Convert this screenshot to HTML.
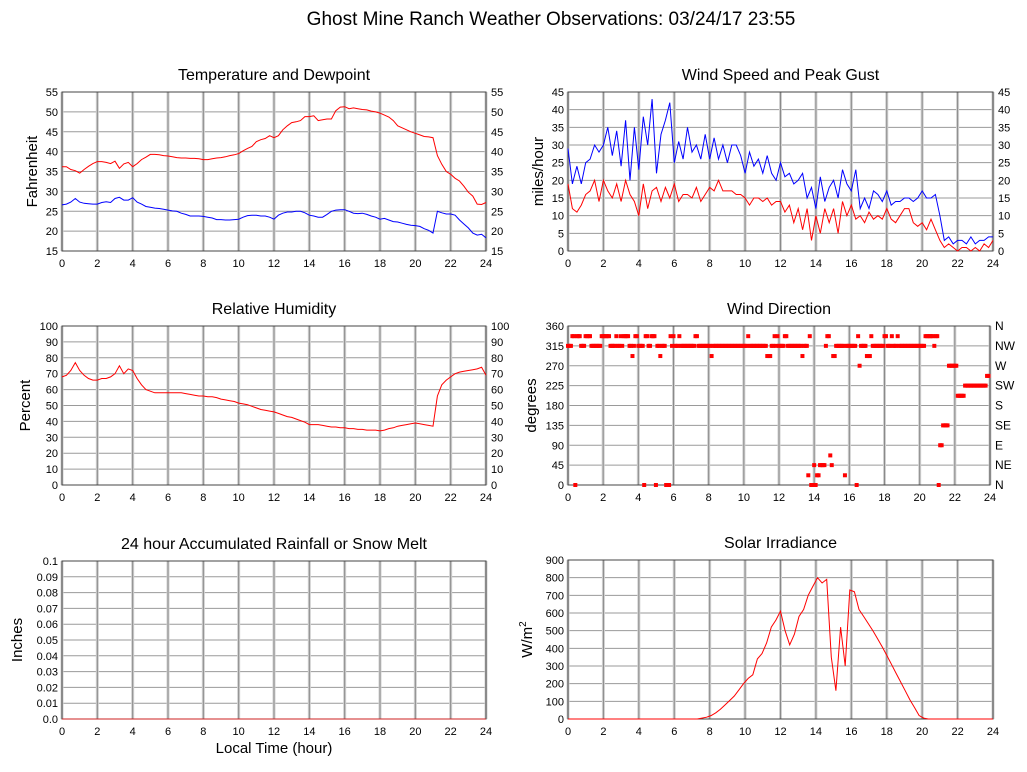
<!DOCTYPE html>
<html><head><meta charset="utf-8"><style>
html,body{margin:0;padding:0;background:#fff;}
svg{display:block;font-family:"Liberation Sans",sans-serif;}
</style></head><body>
<svg id="c" width="1027" height="772" viewBox="0 0 1027 772" xmlns="http://www.w3.org/2000/svg">
<text x="551" y="25" text-anchor="middle" font-size="19">Ghost Mine Ranch Weather Observations: 03/24/17 23:55</text>
<text x="274" y="753" text-anchor="middle" font-size="15">Local Time (hour)</text>
</svg>
<script>
// quarter-hour series (97 values, 0..24h)
const tempF = [36.2,36.2,35.5,35.2, 34.6,35.5,36.3,37, 37.5,37.5,37.3,37, 37.6,35.8,36.9,37.3, 36.2,37,38,38.6, 39.3,39.3,39.2,39, 38.9,38.7,38.5,38.4, 38.4,38.3,38.3,38.2, 38,38,38.2,38.4, 38.5,38.7,39,39.2, 39.5,40.2,40.8,41.3, 42.5,43,43.3,44, 43.5,44,45.5,46.5, 47.3,47.5,47.8,48.8, 48.8,49,47.8,48, 48.2,48.2,50.3,51.2, 51.3,50.8,51,50.8, 50.6,50.5,50.2,50, 49.7,49.2,48.7,47.8, 46.5,46,45.5,45, 44.6,44.2,43.8,43.7, 43.5,39,36.8,35, 34.3,33.3,32.6,31.3, 29.8,28.8,26.8,26.7, 27.2];
const dewF = [26.6,26.8,27.3,28.2, 27.3,27,26.9,26.8, 26.8,27.2,27.4,27.2, 28.2,28.5,27.8,27.8, 28.4,27.3,26.8,26.2, 26,25.8,25.7,25.5, 25.3,25.1,25,24.5, 24.2,23.8,23.8,23.8, 23.7,23.5,23.3,22.9, 22.9,22.8,22.8,22.9, 23,23.5,23.9,24, 24,23.8,23.8,23.5, 23,24,24.5,24.8, 24.8,25,25,24.6, 24,23.8,23.5,23.5, 24.2,25,25.3,25.4, 25.4,25,24.5,24.4, 24.5,24.2,23.8,23.5, 23,23.2,22.8,22.4, 22.3,22,21.7,21.5, 21.4,21.2,20.6,20.2, 19.5,25,24.6,24.3, 24.3,24,22.8,21.8, 20.8,19.5,19,19.2, 18.3];
const gust = [29,19,24,19, 25,26,30,28, 30,35,27,34, 24,37,20,35, 23,38,30,43, 22,33,37,42, 25,31,26,35, 28,30,26,33, 26,32,26,30, 25,30,30,27, 22,28,24,26, 22,27,22,20, 25,21,22,19, 20,22,15,18, 12,21,14,18, 20,15,23,19, 17,23,12,15, 12,17,16,14, 17,13,14,14, 15,15,14,15, 17,15,15,16, 10,3,4,2, 3,3,2,4, 2,3,3,4, 4];
const wind = [19,12,11,13, 16,17,20,14, 20,17,15,19, 14,20,16,14, 10,19,12,17, 18,14,18,15, 19,14,16,16, 15,18,14,16, 18,17,20,17, 17,17,16,16, 15,13,15,15, 14,15,13,14, 14,11,13,8, 12,6,12,3, 10,5,12,8, 12,5,14,10, 13,9,10,8, 11,9,10,9, 12,9,8,10, 12,12,8,7, 8,6,9,6, 3,1,2,1, 0,1,1,0, 1,0,2,1, 3];
const rh = [68,69,72,77, 72,69,67,66, 66,67,67,68, 70,75,70,73, 72,67,63,60, 59,58,58,58, 58,58,58,58, 57.5,57,56.5,56, 56,55.5,55.5,55, 54,53.5,53,52.5, 51.5,51,50.5,49.5, 48.5,47.5,47,46.5, 46,45,44,43, 42.5,41.5,40.5,39.5, 38,38,38,37.5, 37,36.5,36.5,36, 36,35.5,35.5,35, 35,34.5,34.5,34.5, 34,34.5,35.5,36, 37,37.5,38,38.5, 39,38.5,38,37.5, 37,56,63,66, 68,70,71,71.5, 72,72.5,73,74, 69];
const rain = [0,0,0,0,0,0,0,0,0,0,0,0,0,0,0,0,0,0,0,0,0,0,0,0,0];
const solar = [0,0,0,0, 0,0,0,0, 0,0,0,0, 0,0,0,0, 0,0,0,0, 0,0,0,0, 0,0,0,0, 0,5,10,20, 35,55,80,105, 130,165,200,230, 250,340,370,430, 520,560,610,500, 420,480,580,620, 700,750,800,770, 790,350,160,520, 300,730,720,620, 580,540,500,455, 410,360,310,260, 210,160,110,65, 20,5,0,0, 0,0,0,0, 0,0,0,0, 0,0,0,0, 0];
// wind direction, 5-minute samples (288), degrees
const windDir = [
315,315,315,337,337,0,337,337,337,315,315,315,
337,337,337,337,315,315,315,315,315,315,315,337,
337,337,337,337,337,315,315,315,315,337,315,315,
337,315,337,337,337,337,315,315,292,315,337,337,
315,315,315,315,0,337,337,315,315,337,337,337,
0,315,315,292,315,315,315,0,0,0,337,315,
337,315,315,315,337,315,315,315,315,315,315,315,
315,315,315,337,337,315,315,315,315,315,315,315,
315,315,292,315,315,315,315,315,315,315,315,315,
315,315,315,315,315,315,315,315,315,315,315,315,
315,315,315,337,315,315,315,315,315,315,315,315,
315,315,315,315,292,292,292,315,315,337,315,337,
315,315,315,315,337,337,315,315,315,315,315,315,
315,315,315,315,292,315,315,315,22,337,0,0,
45,0,22,22,45,45,45,45,315,337,337,67,
45,292,292,315,315,315,315,315,315,22,315,315,
315,315,315,315,315,0,337,270,315,315,315,315,
292,292,292,337,315,315,315,315,315,315,315,315,
337,337,315,315,315,337,315,315,315,337,315,315,
315,315,315,315,315,315,315,315,315,315,315,315,
315,315,315,315,337,337,337,337,337,337,315,337,
337,0,90,90,135,135,135,135,270,270,270,270,
270,270,202,202,202,202,202,225,225,225,225,225,
225,225,225,225,225,225,225,225,225,225,247,247];
const hourTicks = [0,2,4,6,8,10,12,14,16,18,20,22,24];
const tempTicks = [15,20,25,30,35,40,45,50,55];
const windTicks = [0,5,10,15,20,25,30,35,40,45];
const rhTicks = [0,10,20,30,40,50,60,70,80,90,100];
const dirTicks = [0,45,90,135,180,225,270,315,360];
const dirLabels = ['N','NE','E','SE','S','SW','W','NW','N'];
const rainTicks = [0,0.01,0.02,0.03,0.04,0.05,0.06,0.07,0.08,0.09,0.1];
const rainLabels = ['0.0','0.01','0.02','0.03','0.04','0.05','0.06','0.07','0.08','0.09','0.1'];
const solarTicks = [0,100,200,300,400,500,600,700,800,900];

const NS='http://www.w3.org/2000/svg';
const svg=document.getElementById('c');
function mk(tag,attrs,parent){const e=document.createElementNS(NS,tag);for(const k in attrs)e.setAttribute(k,attrs[k]);(parent||svg).appendChild(e);return e;}
function txt(s,attrs,parent){const e=mk('text',attrs,parent);e.textContent=s;return e;}

function panel(o){
  const g=mk('g',{});
  
  
  const xs=h=>o.x0+(o.x1-o.x0)*h/24;
  const ys=v=>o.y1-(o.y1-o.y0)*(v-o.min)/(o.max-o.min);
  txt(o.title,{x:(o.x0+o.x1)/2,y:o.y0-12,'text-anchor':'middle','font-size':16},g);
  mk('rect',{x:o.x0,y:o.y0,width:o.x1-o.x0,height:o.y1-o.y0,fill:'#fff'},g);
  o.yticks.forEach((t,i)=>{
    const y=ys(t);
    const ln=mk('line',{x1:o.x0,x2:o.x1,y1:y,y2:y,stroke:'#9a9a9a','stroke-width':1},g);
    
    const lb=o.ylabels?o.ylabels[i]:String(t);
    const tl=txt(lb,{x:o.x0-4,y:y+4,'text-anchor':'end','font-size':11},g);
    
    if(o.right){
      const rl=txt(o.right==='same'?lb:o.right[i],{x:o.x1+5,y:y+4,'text-anchor':'start','font-size':o.right==='same'?11:12},g);
      
    }
  });
  hourTicks.forEach(h=>{
    const x=xs(h);
    mk('line',{x1:x,x2:x,y1:o.y0,y2:o.y1,stroke:'#d0d0d0','stroke-width':3},g);
    const ln=mk('line',{x1:x,x2:x,y1:o.y0,y2:o.y1,stroke:'#8a8a8a','stroke-width':1},g);
    
    const tl=txt(String(h),{x:x,y:o.y1+16,'text-anchor':'middle','font-size':11},g);
    
  });
  mk('rect',{x:o.x0,y:o.y0,width:o.x1-o.x0,height:o.y1-o.y0,fill:'none',stroke:'#444','stroke-width':1},g);
  const at=txt(o.ylab,{x:0,y:0,'text-anchor':'middle','font-size':15,transform:`translate(${o.x0-o.ylabOff},${(o.y0+o.y1)/2}) rotate(-90)`},g);
  
  if(o.sup){const ts=mk('tspan',{'font-size':10,dy:-6},at);ts.textContent='2';}
  (o.series||[]).forEach(s=>{
    const n=s.data.length-1;
    const pts=s.data.map((v,i)=>xs(24*i/n).toFixed(1)+','+ys(v).toFixed(1)).join(' ');
    const pl=mk('polyline',{points:pts,fill:'none',stroke:s.color,'stroke-width':1},g);
    
  });
  return {g,xs,ys};
}

panel({name:'temperature-panel',title:'Temperature and Dewpoint',x0:62,x1:486,y0:92,y1:251,min:15,max:55,yticks:tempTicks,right:'same',ylab:'Fahrenheit',ylabOff:25,
  series:[{data:tempF,color:'#ff0000',name:'temperature-line'},{data:dewF,color:'#0000ff',name:'dewpoint-line'}]});
panel({name:'wind-speed-panel',title:'Wind Speed and Peak Gust',x0:568,x1:993,y0:92,y1:251,min:0,max:45,yticks:windTicks,right:'same',ylab:'miles/hour',ylabOff:25,
  series:[{data:gust,color:'#0000ff',name:'peak-gust-line'},{data:wind,color:'#ff0000',name:'wind-speed-line'}]});
panel({name:'humidity-panel',title:'Relative Humidity',x0:62,x1:486,y0:326,y1:485,min:0,max:100,yticks:rhTicks,right:'same',ylab:'Percent',ylabOff:32,
  series:[{data:rh,color:'#ff0000',name:'humidity-line'}]});
const dp=panel({name:'wind-direction-panel',title:'Wind Direction',x0:568,x1:990,y0:326,y1:485,min:0,max:360,yticks:dirTicks,right:dirLabels,ylab:'degrees',ylabOff:32,series:[]});
windDir.forEach((d,i)=>{
  const r=mk('rect',{x:dp.xs(i/12)-2,y:dp.ys(d)-2,width:4,height:4,fill:'#ff0000'},dp.g);
  
});
panel({name:'rainfall-panel',title:'24 hour Accumulated Rainfall or Snow Melt',x0:62,x1:486,y0:561,y1:719,min:0,max:0.1,yticks:rainTicks,ylabels:rainLabels,ylab:'Inches',ylabOff:40,
  series:[{data:rain,color:'#cc2222',name:'rainfall-line'}]});
panel({name:'solar-panel',title:'Solar Irradiance',x0:568,x1:993,y0:560,y1:719,min:0,max:900,yticks:solarTicks,ylab:'W/m',sup:true,ylabOff:36,
  series:[{data:solar,color:'#ff0000',name:'solar-line'}]});
</script>
</body></html>
